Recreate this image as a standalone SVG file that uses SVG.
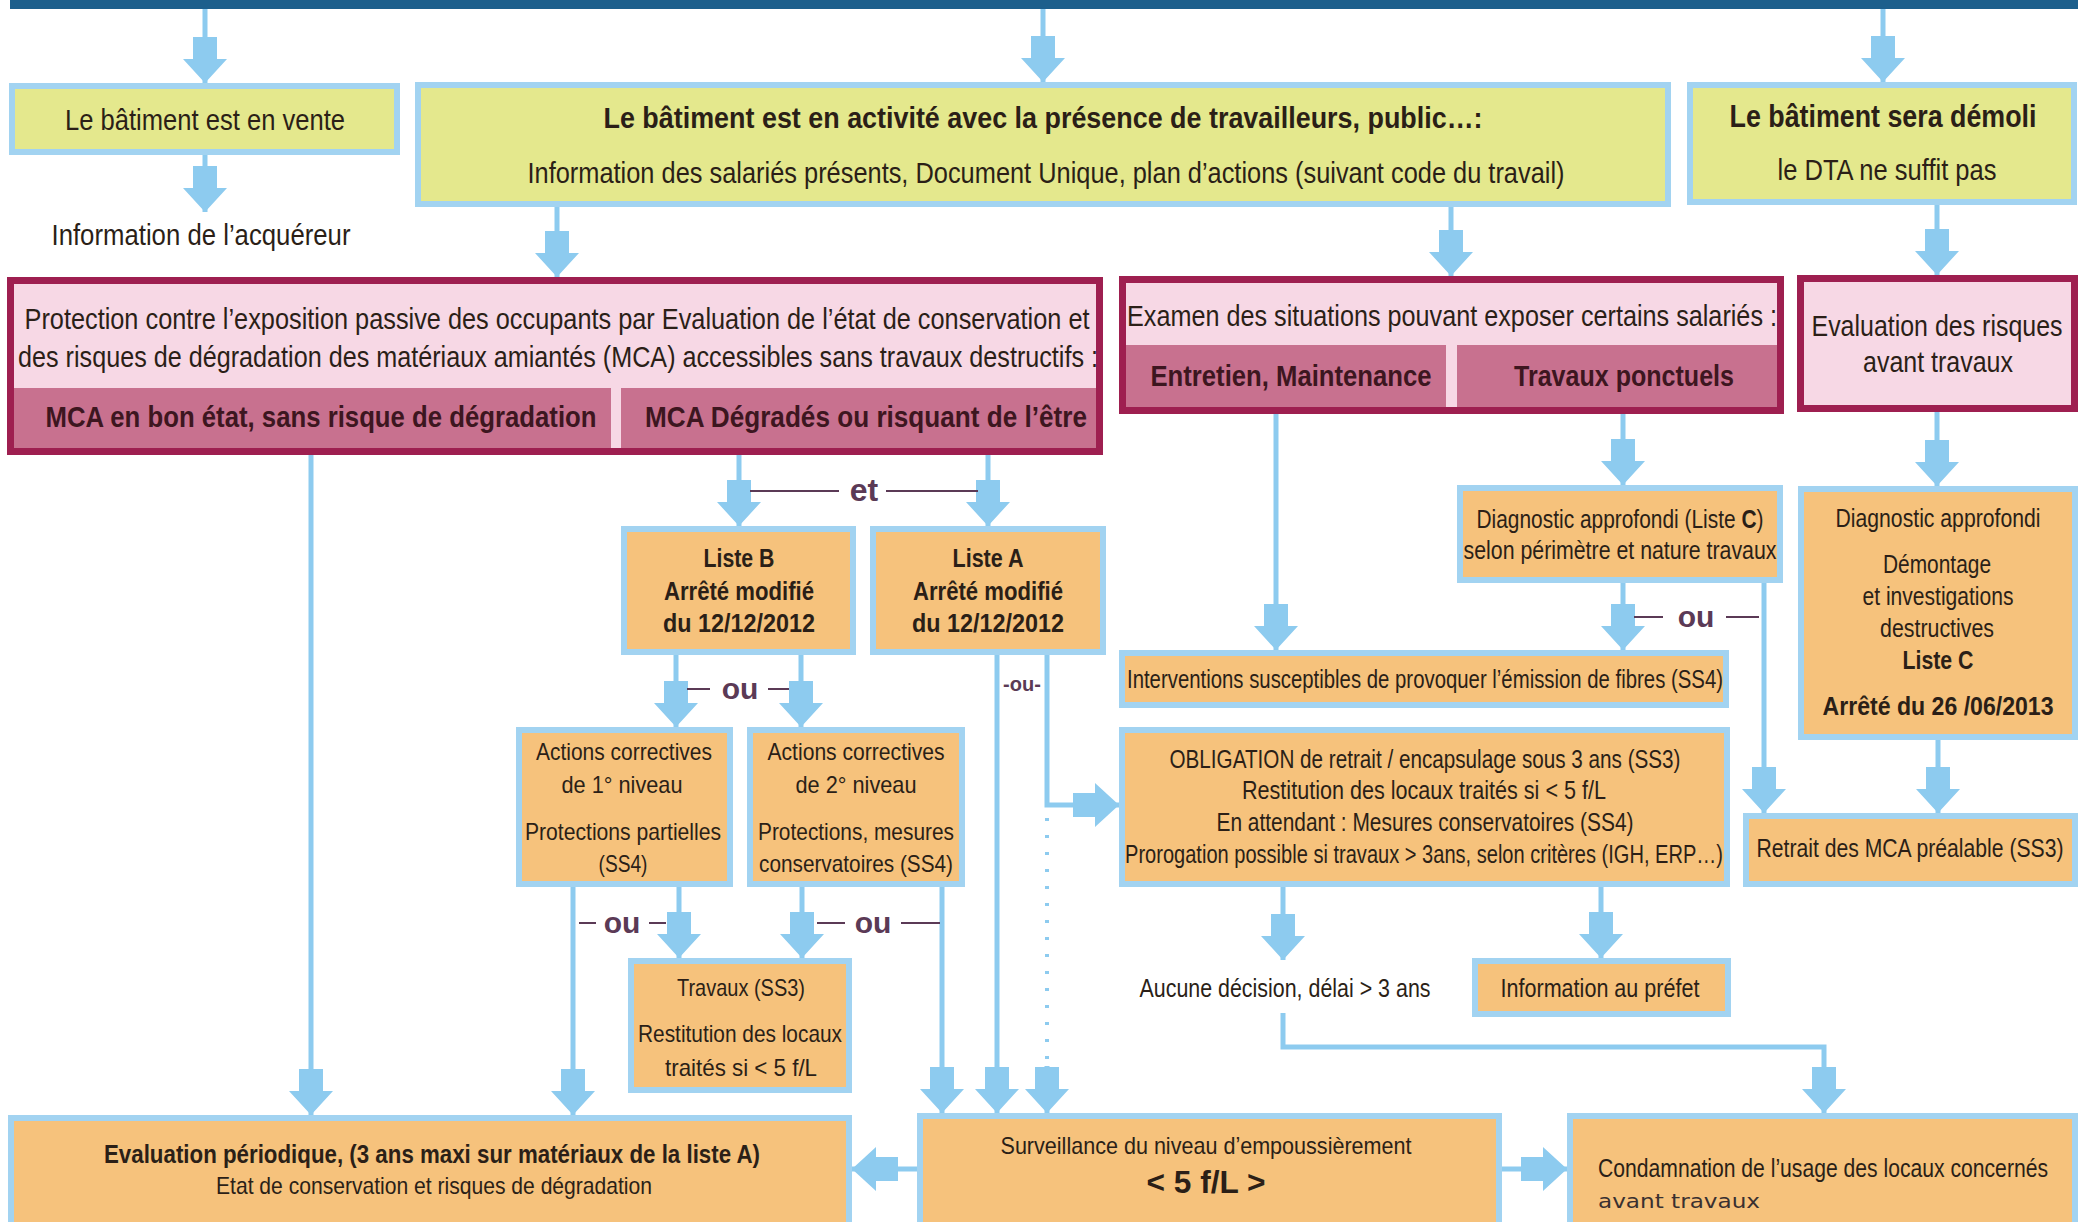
<svg xmlns="http://www.w3.org/2000/svg" width="2091" height="1222" viewBox="0 0 2091 1222">
<style>
.t{font-family:"Liberation Sans Narrow","Liberation Sans",Arial,sans-serif;fill:#2b1f17;text-anchor:middle}
.b{font-weight:bold}
.s30{font-size:30px}.s25{font-size:25px}.s24{font-size:24px}
.yel{fill:#e4e88d;stroke:#a2d3f1;stroke-width:6}
.org{fill:#f6c27c;stroke:#a2d3f1;stroke-width:6}
.pk{fill:#f7d8e5;stroke:#9e1f50;stroke-width:7}
.pkn{fill:none;stroke:#9e1f50;stroke-width:7}
.band{fill:#c8718f}
.bt{fill:#3d1620}
.ln{fill:none;stroke:#8dcbef;stroke-width:5}
.ar{marker-end:url(#ah)}
.dot{fill:none;stroke:#8dcbef;stroke-width:4;stroke-dasharray:3 14}
.ou{font-family:"Liberation Sans Narrow","Liberation Sans",Arial,sans-serif;font-weight:bold;fill:#5b3a56;text-anchor:middle}
.ol{stroke:#5b3a56;stroke-width:2}
</style>
<defs>
<marker id="ah" markerUnits="userSpaceOnUse" viewBox="-46 -22 46 44" markerWidth="46" markerHeight="44" refX="0" refY="0" orient="auto">
<path d="M-46,-12 H-24 V-22 L0,0 L-24,22 V12 H-46 Z" fill="#8dcbef"/>
</marker>
</defs>
<rect width="2091" height="1222" fill="#ffffff"/>
<rect id="topbar" x="10" y="0" width="2068" height="9" fill="#1d5f8c"/>

<g id="connectors">
<line class="ln ar" x1="205" y1="9" x2="205" y2="83"/>
<line class="ln ar" x1="1043" y1="9" x2="1043" y2="82"/>
<line class="ln ar" x1="1883" y1="9" x2="1883" y2="82"/>
<line class="ln ar" x1="205" y1="155" x2="205" y2="212"/>
<line class="ln ar" x1="557" y1="207" x2="557" y2="277"/>
<line class="ln ar" x1="1451" y1="207" x2="1451" y2="276"/>
<line class="ln ar" x1="1937" y1="205" x2="1937" y2="275"/>
<line class="ln ar" x1="311" y1="455" x2="311" y2="1115"/>
<line class="ln ar" x1="739" y1="455" x2="739" y2="526"/>
<line class="ln ar" x1="988" y1="455" x2="988" y2="526"/>
<line class="ln ar" x1="676" y1="655" x2="676" y2="727"/>
<line class="ln ar" x1="801" y1="655" x2="801" y2="727"/>
<line class="ln ar" x1="997" y1="655" x2="997" y2="1113"/>
<polyline class="ln ar" points="1047,655 1047,805 1119,805"/>
<line class="dot" x1="1047" y1="818" x2="1047" y2="1066"/>
<line class="ln ar" x1="1047" y1="1066" x2="1047" y2="1113"/>
<line class="ln ar" x1="573" y1="887" x2="573" y2="1115"/>
<line class="ln ar" x1="679" y1="887" x2="679" y2="958"/>
<line class="ln ar" x1="802" y1="887" x2="802" y2="958"/>
<line class="ln ar" x1="942" y1="887" x2="942" y2="1113"/>
<line class="ln ar" x1="1276" y1="414" x2="1276" y2="650"/>
<line class="ln ar" x1="1623" y1="414" x2="1623" y2="485"/>
<line class="ln ar" x1="1623" y1="583" x2="1623" y2="650"/>
<line class="ln ar" x1="1764" y1="583" x2="1764" y2="813"/>
<line class="ln ar" x1="1937" y1="412" x2="1937" y2="486"/>
<line class="ln ar" x1="1938" y1="740" x2="1938" y2="813"/>
<line class="ln ar" x1="1283" y1="887" x2="1283" y2="960"/>
<line class="ln ar" x1="1601" y1="887" x2="1601" y2="958"/>
<polyline class="ln ar" points="1283,1013 1283,1047 1824,1047 1824,1113"/>
<line class="ln ar" x1="917" y1="1169" x2="852" y2="1169"/>
<line class="ln ar" x1="1502" y1="1169" x2="1567" y2="1169"/>
</g>

<g id="labels">
<line class="ol" x1="750" y1="491" x2="839" y2="491"/><line class="ol" x1="886" y1="491" x2="978" y2="491"/>
<text class="ou" x="864" y="501" font-size="32">et</text>
<line class="ol" x1="687" y1="689" x2="710" y2="689"/><line class="ol" x1="768" y1="689" x2="789" y2="689"/>
<text class="ou" x="740" y="699" font-size="30">ou</text>
<line class="ol" x1="579" y1="923" x2="596" y2="923"/><line class="ol" x1="649" y1="923" x2="666" y2="923"/>
<text class="ou" x="622" y="933" font-size="30">ou</text>
<line class="ol" x1="817" y1="923" x2="845" y2="923"/><line class="ol" x1="901" y1="923" x2="940" y2="923"/>
<text class="ou" x="873" y="933" font-size="30">ou</text>
<line class="ol" x1="1634" y1="617" x2="1663" y2="617"/><line class="ol" x1="1726" y1="617" x2="1759" y2="617"/>
<text class="ou" x="1696" y="627" font-size="30">ou</text>
<text class="ou" x="1022" y="691" font-size="20">-ou-</text>
</g>

<g id="n-vente">
<rect class="yel" x="12" y="86" width="385" height="66"/>
<text class="t s30" x="205" y="130" textLength="280" lengthAdjust="spacingAndGlyphs">Le bâtiment est en vente</text>
</g>
<g id="n-acquereur">
<text class="t s30" x="201" y="245" textLength="299" lengthAdjust="spacingAndGlyphs">Information de l’acquéreur</text>
</g>
<g id="n-activite">
<rect class="yel" x="418" y="85" width="1250" height="119"/>
<text class="t s30 b" x="1043" y="128" textLength="879" lengthAdjust="spacingAndGlyphs">Le bâtiment est en activité avec la présence de travailleurs, public…:</text>
<text class="t s30" x="1046" y="183" textLength="1037" lengthAdjust="spacingAndGlyphs">Information des salariés présents, Document Unique, plan d’actions (suivant code du travail)</text>
</g>
<g id="n-demoli">
<rect class="yel" x="1690" y="85" width="384" height="117"/>
<text class="t b" font-size="31" x="1883" y="127" textLength="307" lengthAdjust="spacingAndGlyphs">Le bâtiment sera démoli</text>
<text class="t s30" x="1887" y="180" textLength="219" lengthAdjust="spacingAndGlyphs">le DTA ne suffit pas</text>
</g>

<g id="n-protection">
<rect class="pk" x="10.5" y="280.5" width="1089" height="171"/>
<rect class="band" x="14" y="388" width="597" height="60"/>
<rect class="band" x="621" y="388" width="475" height="60"/>
<rect class="pkn" x="10.5" y="280.5" width="1089" height="171"/>
<text class="t s30" x="557" y="329" textLength="1065" lengthAdjust="spacingAndGlyphs">Protection contre l’exposition passive des occupants par Evaluation de l’état de conservation et</text>
<text class="t s30" x="558" y="367" textLength="1080" lengthAdjust="spacingAndGlyphs">des risques de dégradation des matériaux amiantés (MCA) accessibles sans travaux destructifs :</text>
<text class="t s30 b bt" x="321" y="427" textLength="551" lengthAdjust="spacingAndGlyphs">MCA en bon état, sans risque de dégradation</text>
<text class="t s30 b bt" x="866" y="427" textLength="442" lengthAdjust="spacingAndGlyphs">MCA Dégradés ou risquant de l’être</text>
</g>
<g id="n-examen">
<rect class="pk" x="1122.5" y="279.5" width="658" height="131"/>
<rect class="band" x="1126" y="345" width="320" height="62"/>
<rect class="band" x="1457" y="345" width="320" height="62"/>
<rect class="pkn" x="1122.5" y="279.5" width="658" height="131"/>
<text class="t s30" x="1452" y="326" textLength="650" lengthAdjust="spacingAndGlyphs">Examen des situations pouvant exposer certains salariés :</text>
<text class="t s30 b bt" x="1291" y="386" textLength="281" lengthAdjust="spacingAndGlyphs">Entretien, Maintenance</text>
<text class="t s30 b bt" x="1624" y="386" textLength="220" lengthAdjust="spacingAndGlyphs">Travaux ponctuels</text>
</g>
<g id="n-evalrisques">
<rect class="pk" x="1800.5" y="278.5" width="274" height="130"/>
<text class="t s30" x="1937" y="336" textLength="251" lengthAdjust="spacingAndGlyphs">Evaluation des risques</text>
<text class="t s30" x="1938" y="372" textLength="150" lengthAdjust="spacingAndGlyphs">avant travaux</text>
</g>

<g id="n-listeB">
<rect class="org" x="624" y="529" width="229" height="123"/>
<text class="t s25 b" x="739" y="567" textLength="71" lengthAdjust="spacingAndGlyphs">Liste B</text>
<text class="t s25 b" x="739" y="600" textLength="150" lengthAdjust="spacingAndGlyphs">Arrêté modifié</text>
<text class="t s25 b" x="739" y="632" textLength="152" lengthAdjust="spacingAndGlyphs">du 12/12/2012</text>
</g>
<g id="n-listeA">
<rect class="org" x="873" y="529" width="230" height="123"/>
<text class="t s25 b" x="988" y="567" textLength="71" lengthAdjust="spacingAndGlyphs">Liste A</text>
<text class="t s25 b" x="988" y="600" textLength="150" lengthAdjust="spacingAndGlyphs">Arrêté modifié</text>
<text class="t s25 b" x="988" y="632" textLength="152" lengthAdjust="spacingAndGlyphs">du 12/12/2012</text>
</g>
<g id="n-actions1">
<rect class="org" x="519" y="730" width="211" height="154"/>
<text class="t s24" x="624" y="760" textLength="176" lengthAdjust="spacingAndGlyphs">Actions correctives</text>
<text class="t s24" x="622" y="793" textLength="121" lengthAdjust="spacingAndGlyphs">de 1° niveau</text>
<text class="t s24" x="623" y="840" textLength="196" lengthAdjust="spacingAndGlyphs">Protections partielles</text>
<text class="t s24" x="623" y="872" textLength="49" lengthAdjust="spacingAndGlyphs">(SS4)</text>
</g>
<g id="n-actions2">
<rect class="org" x="750" y="730" width="212" height="154"/>
<text class="t s24" x="856" y="760" textLength="177" lengthAdjust="spacingAndGlyphs">Actions correctives</text>
<text class="t s24" x="856" y="793" textLength="121" lengthAdjust="spacingAndGlyphs">de 2° niveau</text>
<text class="t s24" x="856" y="840" textLength="196" lengthAdjust="spacingAndGlyphs">Protections, mesures</text>
<text class="t s24" x="856" y="872" textLength="194" lengthAdjust="spacingAndGlyphs">conservatoires (SS4)</text>
</g>
<g id="n-travaux">
<rect class="org" x="631" y="961" width="218" height="129"/>
<text class="t s24" x="741" y="996" textLength="128" lengthAdjust="spacingAndGlyphs">Travaux (SS3)</text>
<text class="t s24" x="740" y="1042" textLength="204" lengthAdjust="spacingAndGlyphs">Restitution des locaux</text>
<text class="t s24" x="741" y="1076" textLength="152" lengthAdjust="spacingAndGlyphs">traités si &lt; 5 f/L</text>
</g>

<g id="n-diagC">
<rect class="org" x="1460" y="488" width="320" height="92"/>
<text class="t s25" x="1620" y="528" textLength="287" lengthAdjust="spacingAndGlyphs">Diagnostic approfondi (Liste <tspan class="b">C</tspan>)</text>
<text class="t s25" x="1620" y="559" textLength="313" lengthAdjust="spacingAndGlyphs">selon périmètre et nature travaux</text>
</g>
<g id="n-interventions">
<rect class="org" x="1122" y="653" width="604" height="52"/>
<text class="t s25" x="1425" y="688" textLength="596" lengthAdjust="spacingAndGlyphs">Interventions susceptibles de provoquer l’émission de fibres (SS4)</text>
</g>
<g id="n-obligation">
<rect class="org" x="1122" y="730" width="605" height="154"/>
<text class="t s25" x="1425" y="768" textLength="511" lengthAdjust="spacingAndGlyphs">OBLIGATION de retrait / encapsulage sous 3 ans (SS3)</text>
<text class="t s25" x="1424" y="799" textLength="364" lengthAdjust="spacingAndGlyphs">Restitution des locaux traités si &lt; 5 f/L</text>
<text class="t s25" x="1425" y="831" textLength="417" lengthAdjust="spacingAndGlyphs">En attendant : Mesures conservatoires (SS4)</text>
<text class="t s25" x="1424" y="863" textLength="598" lengthAdjust="spacingAndGlyphs">Prorogation possible si travaux &gt; 3ans, selon critères (IGH, ERP…)</text>
</g>
<g id="n-diagright">
<rect class="org" x="1801" y="489" width="274" height="248"/>
<text class="t s25" x="1938" y="527" textLength="205" lengthAdjust="spacingAndGlyphs">Diagnostic approfondi</text>
<text class="t s25" x="1937" y="573" textLength="108" lengthAdjust="spacingAndGlyphs">Démontage</text>
<text class="t s25" x="1938" y="605" textLength="151" lengthAdjust="spacingAndGlyphs">et investigations</text>
<text class="t s25" x="1937" y="637" textLength="114" lengthAdjust="spacingAndGlyphs">destructives</text>
<text class="t s25 b" x="1938" y="669" textLength="71" lengthAdjust="spacingAndGlyphs">Liste C</text>
<text class="t s25 b" x="1938" y="715" textLength="231" lengthAdjust="spacingAndGlyphs">Arrêté du 26 /06/2013</text>
</g>
<g id="n-retrait">
<rect class="org" x="1746" y="816" width="329" height="68"/>
<text class="t s25" x="1910" y="857" textLength="307" lengthAdjust="spacingAndGlyphs">Retrait des MCA préalable (SS3)</text>
</g>
<g id="n-aucune">
<text class="t s25" x="1285" y="997" textLength="291" lengthAdjust="spacingAndGlyphs">Aucune décision, délai &gt; 3 ans</text>
</g>
<g id="n-prefet">
<rect class="org" x="1475" y="961" width="253" height="53"/>
<text class="t s25" x="1600" y="997" textLength="199" lengthAdjust="spacingAndGlyphs">Information au préfet</text>
</g>

<g id="n-evalperiodique">
<rect class="org" x="11" y="1118" width="838" height="110"/>
<text class="t s25 b" x="432" y="1163" textLength="656" lengthAdjust="spacingAndGlyphs">Evaluation périodique, (3 ans maxi sur matériaux de la liste A)</text>
<text class="t s24" x="434" y="1194" textLength="436" lengthAdjust="spacingAndGlyphs">Etat de conservation et risques de dégradation</text>
</g>
<g id="n-surveillance">
<rect class="org" x="920" y="1116" width="579" height="110"/>
<text class="t s24" x="1206" y="1154" textLength="411" lengthAdjust="spacingAndGlyphs">Surveillance du niveau d’empoussièrement</text>
<text class="t b" font-size="31" x="1206" y="1193" textLength="119" lengthAdjust="spacingAndGlyphs">&lt; 5 f/L &gt;</text>
</g>
<g id="n-condamnation">
<rect class="org" x="1570" y="1116" width="505" height="110"/>
<text class="t s25" x="1823" y="1177" textLength="450" lengthAdjust="spacingAndGlyphs">Condamnation de l’usage des locaux concernés</text>
<text x="1598" y="1208" font-family="'Comic Sans MS','DejaVu Sans',cursive" font-size="20" fill="#3a3030" textLength="162" lengthAdjust="spacingAndGlyphs">avant travaux</text>
</g>
</svg>
